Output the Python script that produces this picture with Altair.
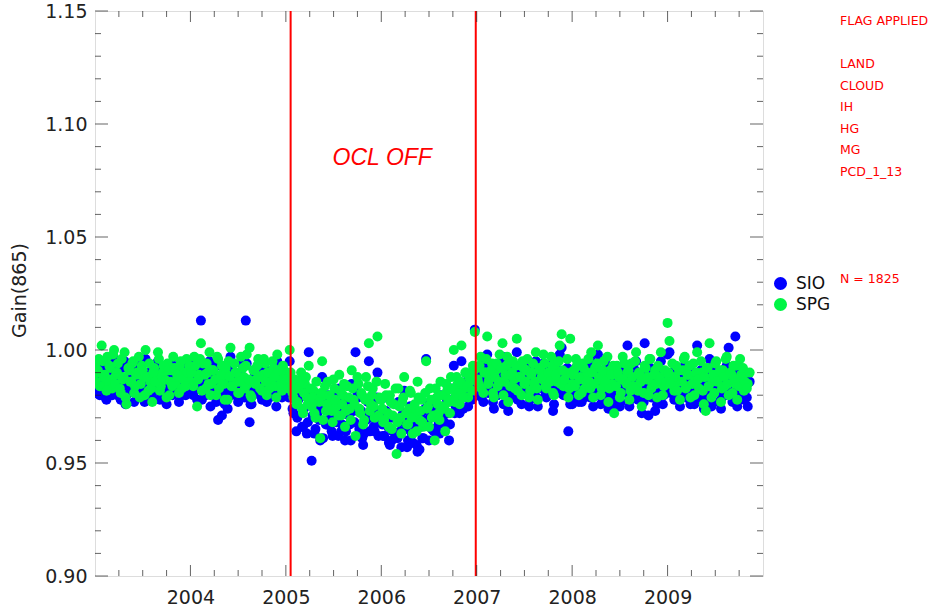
import altair as alt
import pandas as pd

# ---------------- data ----------------
# first pass of matchups
dates = [
    2003.00, 2003.02, 2003.04, 2003.07, 2003.09, 2003.11, 2003.13, 2003.16, 2003.18, 2003.20,
    2003.22, 2003.24, 2003.27, 2003.29, 2003.31, 2003.33, 2003.36, 2003.38, 2003.40, 2003.42,
    2003.44, 2003.47, 2003.49, 2003.51, 2003.53, 2003.56, 2003.58, 2003.60, 2003.62, 2003.64,
    2003.67, 2003.69, 2003.71, 2003.73, 2003.76, 2003.78, 2003.80, 2003.82, 2003.84, 2003.87,
    2003.89, 2003.91, 2003.93, 2003.96, 2003.98,
    2004.00, 2004.02, 2004.04, 2004.07, 2004.09, 2004.11, 2004.13, 2004.16, 2004.18, 2004.20,
    2004.22, 2004.24, 2004.27, 2004.29, 2004.31, 2004.33, 2004.36, 2004.38, 2004.40, 2004.42,
    2004.44, 2004.47, 2004.49, 2004.51, 2004.53, 2004.56, 2004.58, 2004.60, 2004.62, 2004.64,
    2004.67, 2004.69, 2004.71, 2004.73, 2004.76, 2004.78, 2004.80, 2004.82, 2004.84, 2004.87,
    2004.89, 2004.91, 2004.93, 2004.96, 2004.98,
    2005.00, 2005.02, 2005.04, 2005.07, 2005.09, 2005.11, 2005.13, 2005.16, 2005.18, 2005.20,
    2005.22, 2005.24, 2005.27, 2005.29, 2005.31, 2005.33, 2005.36, 2005.38, 2005.40, 2005.42,
    2005.44, 2005.47, 2005.49, 2005.51, 2005.53, 2005.56, 2005.58, 2005.60, 2005.62, 2005.64,
    2005.67, 2005.69, 2005.71, 2005.73, 2005.76, 2005.78, 2005.80, 2005.82, 2005.84, 2005.87,
    2005.89, 2005.91, 2005.93, 2005.96, 2005.98,
    2006.00, 2006.02, 2006.04, 2006.07, 2006.09, 2006.11, 2006.13, 2006.16, 2006.18, 2006.20,
    2006.22, 2006.24, 2006.27, 2006.29, 2006.31, 2006.33, 2006.36, 2006.38, 2006.40, 2006.42,
    2006.44, 2006.47, 2006.49, 2006.51, 2006.53, 2006.56, 2006.58, 2006.60, 2006.62, 2006.64,
    2006.67, 2006.69, 2006.71, 2006.73, 2006.76, 2006.78, 2006.80, 2006.82, 2006.84, 2006.87,
    2006.89, 2006.91, 2006.93, 2006.96, 2006.98,
    2007.00, 2007.02, 2007.04, 2007.07, 2007.09, 2007.11, 2007.13, 2007.16, 2007.18, 2007.20,
    2007.22, 2007.24, 2007.27, 2007.29, 2007.31, 2007.33, 2007.36, 2007.38, 2007.40, 2007.42,
    2007.44, 2007.47, 2007.49, 2007.51, 2007.53, 2007.56, 2007.58, 2007.60, 2007.62, 2007.64,
    2007.67, 2007.69, 2007.71, 2007.73, 2007.76, 2007.78, 2007.80, 2007.82, 2007.84, 2007.87,
    2007.89, 2007.91, 2007.93, 2007.96, 2007.98,
    2008.00, 2008.02, 2008.04, 2008.07, 2008.09, 2008.11, 2008.13, 2008.16, 2008.18, 2008.20,
    2008.22, 2008.24, 2008.27, 2008.29, 2008.31, 2008.33, 2008.36, 2008.38, 2008.40, 2008.42,
    2008.44, 2008.47, 2008.49, 2008.51, 2008.53, 2008.56, 2008.58, 2008.60, 2008.62, 2008.64,
    2008.67, 2008.69, 2008.71, 2008.73, 2008.76, 2008.78, 2008.80, 2008.82, 2008.84, 2008.87,
    2008.89, 2008.91, 2008.93, 2008.96, 2008.98,
    2009.00, 2009.02, 2009.04, 2009.07, 2009.09, 2009.11, 2009.13, 2009.16, 2009.18, 2009.20,
    2009.22, 2009.24, 2009.27, 2009.29, 2009.31, 2009.33, 2009.36, 2009.38, 2009.40, 2009.42,
    2009.44, 2009.47, 2009.49, 2009.51, 2009.53, 2009.56, 2009.58, 2009.60, 2009.62, 2009.64,
    2009.67, 2009.69, 2009.71, 2009.73, 2009.76, 2009.78, 2009.80, 2009.82, 2009.84,
]

sio = [
    0.981, 0.987, 0.992, 0.995, 0.984, 0.979, 0.993, 0.989, 0.980, 0.996,
    0.986, 0.990, 0.978, 0.984, 0.995, 0.980, 0.988, 0.983, 0.991, 0.981,
    0.987, 0.982, 0.990, 0.985, 0.996, 0.980, 0.983, 0.979, 0.989, 0.986,
    0.992, 0.981, 0.987, 0.984, 0.990, 0.982, 0.988, 0.993, 0.982, 0.985,
    0.990, 0.980, 0.987, 0.992, 0.984,
    0.983, 0.989, 0.994, 0.978, 0.986, 1.013, 0.991, 0.980, 0.987, 0.995,
    0.982, 0.988, 0.977, 0.969, 0.984, 0.971, 0.976, 0.986, 0.992, 0.997,
    0.981, 0.987, 0.983, 0.978, 0.994, 0.985, 1.013, 0.982, 0.968, 0.976,
    0.988, 0.984, 0.993, 0.980, 0.986, 0.991, 0.977, 0.987, 0.983, 0.989,
    0.981, 0.995, 0.985, 0.979, 0.988,
    0.986, 0.980, 0.995, 0.974, 0.982, 0.964, 0.978, 0.985, 0.966, 0.980,
    0.963, 0.999, 0.951, 0.976, 0.965, 0.972, 0.960, 0.988, 0.974, 0.967,
    0.980, 0.970, 0.962, 0.977, 0.968, 0.983, 0.964, 0.975, 0.960, 0.978,
    0.967, 0.985, 0.973, 0.999, 0.979, 0.965, 0.961, 0.963, 0.969, 0.995,
    0.970, 0.977, 0.964, 0.990, 0.972,
    0.972, 0.962, 0.979, 0.966, 0.958, 0.960, 0.970, 0.962, 0.977, 0.964,
    0.971, 0.982, 0.957, 0.968, 0.975, 0.959, 0.966, 0.955, 0.956, 0.972,
    0.961, 0.996, 0.969, 0.977, 0.965, 0.972, 0.974, 0.967, 0.980, 0.970,
    0.967, 0.977, 0.960, 0.983, 0.993, 0.975, 0.980, 0.972, 0.995, 0.979,
    0.986, 0.975, 0.982, 0.988, 1.009,
    0.988, 0.981, 0.993, 0.977, 0.986, 0.998, 0.983, 0.990, 0.974, 0.987,
    0.980, 0.994, 0.997, 0.982, 0.989, 0.973, 0.985, 0.991, 0.979, 0.999,
    0.984, 0.976, 0.988, 0.982, 0.992, 0.978, 0.986, 0.981, 0.995, 0.975,
    0.987, 0.983, 0.990, 0.979, 0.985, 0.993, 0.973, 0.988, 0.982, 0.998,
    1.001, 0.980, 0.986, 0.964, 0.976,
    0.976, 0.987, 0.992, 0.977, 0.984, 0.990, 0.979, 0.986, 0.982, 0.995,
    0.975, 0.988, 0.998, 0.983, 0.979, 0.991, 0.985, 0.974, 0.987, 0.981,
    0.976, 0.989, 0.984, 0.977, 0.993, 0.982, 1.002, 0.975, 0.990, 0.980,
    0.995, 0.978, 0.985, 0.972, 1.003, 0.983, 0.971, 0.992, 0.981, 0.973,
    0.976, 0.984, 0.995, 0.980, 0.986,
    0.998, 0.999, 0.984, 0.978, 0.989, 0.982, 0.975, 0.987, 0.993, 0.980,
    0.985, 0.976, 0.990, 0.983, 1.002, 0.979, 0.986, 0.974, 0.978, 0.988,
    0.996, 0.982, 0.977, 0.991, 0.984, 0.974, 0.987, 0.980, 0.993, 1.001,
    0.985, 0.989, 1.006, 0.975, 0.992, 0.983, 0.978, 0.986, 0.975,
]

spg = [
    0.993, 0.990, 0.996, 1.002, 0.988, 0.985, 0.997, 0.992, 0.983, 1.000,
    0.989, 0.994, 0.981, 0.987, 0.999, 0.976, 0.991, 0.986, 0.995, 0.984,
    0.990, 0.979, 0.993, 0.988, 1.000, 0.982, 0.986, 0.977, 0.992, 0.989,
    0.996, 0.984, 0.990, 0.987, 0.994, 0.980, 0.991, 0.997, 0.985, 0.988,
    0.993, 0.983, 0.990, 0.996, 0.987,
    0.986, 0.992, 0.997, 0.975, 0.989, 1.003, 0.994, 0.983, 0.990, 0.999,
    0.985, 0.991, 0.980, 0.996, 0.987, 0.993, 0.978, 0.989, 0.995, 1.001,
    0.984, 0.990, 0.986, 0.981, 0.997, 0.988, 0.993, 0.985, 1.001, 0.979,
    0.991, 0.987, 0.996, 0.983, 0.989, 0.994, 0.980, 0.990, 0.986, 0.992,
    0.984, 0.998, 0.988, 0.982, 0.991,
    0.990, 0.984, 1.000, 0.981, 0.987, 0.976, 0.983, 0.990, 0.972, 0.985,
    0.979, 0.993, 0.975, 0.982, 0.970, 0.978, 0.961, 0.995, 0.980, 0.973,
    0.986, 0.977, 0.968, 0.983, 0.975, 0.989, 0.971, 0.980, 0.966, 0.984,
    0.974, 0.991, 0.978, 0.962, 0.985, 0.972, 0.980, 0.969, 0.988, 1.003,
    0.976, 0.983, 0.970, 1.006, 0.979,
    0.978, 0.968, 0.985, 0.972, 0.980, 0.965, 0.976, 0.954, 0.983, 0.970,
    0.977, 0.988, 0.967, 0.974, 0.981, 0.963, 0.972, 0.986, 0.969, 0.978,
    0.966, 0.995, 0.975, 0.983, 0.970, 0.960, 0.979, 0.972, 0.986, 0.975,
    0.964, 0.982, 0.977, 0.988, 1.000, 0.980, 0.985, 0.976, 1.002, 0.983,
    0.990, 0.979, 0.986, 0.993, 1.008,
    0.992, 0.985, 0.997, 0.981, 0.990, 1.006, 0.987, 0.994, 0.979, 0.991,
    0.984, 0.998, 1.003, 0.986, 0.993, 0.977, 0.989, 0.995, 0.983, 1.005,
    0.988, 0.980, 0.992, 0.986, 0.996, 0.982, 0.990, 0.985, 0.999, 0.978,
    0.991, 0.987, 0.994, 0.983, 0.989, 0.997, 0.981, 0.992, 0.986, 1.002,
    1.007, 0.984, 0.990, 0.979, 1.005,
    0.985, 0.991, 0.996, 0.980, 0.988, 0.994, 0.983, 0.990, 0.986, 0.999,
    0.979, 0.992, 1.002, 0.987, 0.983, 0.995, 0.989, 0.977, 0.991, 0.985,
    0.972, 0.993, 0.988, 0.981, 0.997, 0.986, 0.990, 0.978, 0.994, 0.984,
    0.999, 0.982, 0.989, 0.975, 0.993, 0.987, 0.980, 0.996, 0.985, 0.991,
    0.979, 0.988, 0.999, 0.984, 0.990,
    1.012, 1.004, 0.988, 0.982, 0.993, 0.986, 0.978, 0.991, 0.997, 0.984,
    0.989, 0.979, 0.994, 0.987, 0.999, 0.983, 0.990, 0.976, 0.973, 0.992,
    1.003, 0.986, 0.981, 0.995, 0.988, 0.977, 0.991, 0.984, 0.997, 0.980,
    0.989, 0.993, 0.985, 0.978, 0.996, 0.987, 0.982, 0.990, 0.985,
]

# second pass of matchups
dates_b = [
    2003.01, 2003.03, 2003.05, 2003.08, 2003.10, 2003.12, 2003.15, 2003.17, 2003.19, 2003.21,
    2003.23, 2003.26, 2003.28, 2003.30, 2003.32, 2003.35, 2003.37, 2003.39, 2003.41, 2003.43,
    2003.46, 2003.48, 2003.50, 2003.52, 2003.55, 2003.57, 2003.59, 2003.61, 2003.63, 2003.66,
    2003.68, 2003.70, 2003.72, 2003.75, 2003.77, 2003.79, 2003.81, 2003.83, 2003.86, 2003.88,
    2003.90, 2003.92, 2003.95, 2003.97, 2003.99,
    2004.01, 2004.03, 2004.05, 2004.08, 2004.10, 2004.12, 2004.15, 2004.17, 2004.19, 2004.21,
    2004.23, 2004.26, 2004.28, 2004.30, 2004.32, 2004.35, 2004.37, 2004.39, 2004.41, 2004.43,
    2004.46, 2004.48, 2004.50, 2004.52, 2004.55, 2004.57, 2004.59, 2004.61, 2004.63, 2004.66,
    2004.68, 2004.70, 2004.72, 2004.75, 2004.77, 2004.79, 2004.81, 2004.83, 2004.86, 2004.88,
    2004.90, 2004.92, 2004.95, 2004.97, 2004.99,
    2005.01, 2005.03, 2005.05, 2005.08, 2005.10, 2005.12, 2005.15, 2005.17, 2005.19, 2005.21,
    2005.23, 2005.26, 2005.28, 2005.30, 2005.32, 2005.35, 2005.37, 2005.39, 2005.41, 2005.43,
    2005.46, 2005.48, 2005.50, 2005.52, 2005.55, 2005.57, 2005.59, 2005.61, 2005.63, 2005.66,
    2005.68, 2005.70, 2005.72, 2005.75, 2005.77, 2005.79, 2005.81, 2005.83, 2005.86, 2005.88,
    2005.90, 2005.92, 2005.95, 2005.97, 2005.99,
    2006.01, 2006.03, 2006.05, 2006.08, 2006.10, 2006.12, 2006.15, 2006.17, 2006.19, 2006.21,
    2006.23, 2006.26, 2006.28, 2006.30, 2006.32, 2006.35, 2006.37, 2006.39, 2006.41, 2006.43,
    2006.46, 2006.48, 2006.50, 2006.52, 2006.55, 2006.57, 2006.59, 2006.61, 2006.63, 2006.66,
    2006.68, 2006.70, 2006.72, 2006.75, 2006.77, 2006.79, 2006.81, 2006.83, 2006.86, 2006.88,
    2006.90, 2006.92, 2006.95, 2006.97, 2006.99,
    2007.01, 2007.03, 2007.05, 2007.08, 2007.10, 2007.12, 2007.15, 2007.17, 2007.19, 2007.21,
    2007.23, 2007.26, 2007.28, 2007.30, 2007.32, 2007.35, 2007.37, 2007.39, 2007.41, 2007.43,
    2007.46, 2007.48, 2007.50, 2007.52, 2007.55, 2007.57, 2007.59, 2007.61, 2007.63, 2007.66,
    2007.68, 2007.70, 2007.72, 2007.75, 2007.77, 2007.79, 2007.81, 2007.83, 2007.86, 2007.88,
    2007.90, 2007.92, 2007.95, 2007.97, 2007.99,
    2008.01, 2008.03, 2008.05, 2008.08, 2008.10, 2008.12, 2008.15, 2008.17, 2008.19, 2008.21,
    2008.23, 2008.26, 2008.28, 2008.30, 2008.32, 2008.35, 2008.37, 2008.39, 2008.41, 2008.43,
    2008.46, 2008.48, 2008.50, 2008.52, 2008.55, 2008.57, 2008.59, 2008.61, 2008.63, 2008.66,
    2008.68, 2008.70, 2008.72, 2008.75, 2008.77, 2008.79, 2008.81, 2008.83, 2008.86, 2008.88,
    2008.90, 2008.92, 2008.95, 2008.97, 2008.99,
    2009.01, 2009.03, 2009.05, 2009.08, 2009.10, 2009.12, 2009.15, 2009.17, 2009.19, 2009.21,
    2009.23, 2009.26, 2009.28, 2009.30, 2009.32, 2009.35, 2009.37, 2009.39, 2009.41, 2009.43,
    2009.46, 2009.48, 2009.50, 2009.52, 2009.55, 2009.57, 2009.59, 2009.61, 2009.63, 2009.66,
    2009.68, 2009.70, 2009.72, 2009.75, 2009.77, 2009.79, 2009.81, 2009.83, 2009.86,
]

sio_b = [
    0.983, 0.987, 0.980, 0.991, 0.986, 0.978, 0.989, 0.984, 0.994, 0.981,
    0.986, 0.979, 0.992, 0.985, 0.976, 0.988, 0.982, 0.990, 0.977, 0.985,
    0.993, 0.981, 0.987, 0.977, 0.984, 0.990, 0.979, 0.986, 0.982, 0.995,
    0.978, 0.984, 0.989, 0.976, 0.987, 0.982, 0.980, 0.988, 0.985, 0.977,
    0.991, 0.983, 0.980, 0.986, 0.989,
    0.986, 0.980, 0.989, 0.983, 0.992, 0.978, 0.985, 0.990, 0.981, 0.975,
    0.987, 0.983, 0.993, 0.979, 0.985, 0.981, 0.988, 0.974, 0.984, 0.980,
    0.990, 0.986, 0.977, 0.982, 0.988, 0.979, 0.994, 0.983, 0.976, 0.987,
    0.981, 0.989, 0.984, 0.978, 0.992, 0.982, 0.986, 0.979, 0.991, 0.984,
    0.975, 0.987, 0.981, 0.989, 0.983,
    0.984, 0.979, 0.986, 0.972, 0.978, 0.970, 0.980, 0.966, 0.974, 0.982,
    0.968, 0.976, 0.971, 0.963, 0.979, 0.969, 0.974, 0.961, 0.977, 0.967,
    0.973, 0.964, 0.980, 0.970, 0.962, 0.975, 0.967, 0.978, 0.964, 0.971,
    0.960, 0.976, 0.968, 0.981, 0.965, 0.973, 0.958, 0.970, 0.977, 0.964,
    0.972, 0.966, 0.979, 0.962, 0.969,
    0.967, 0.962, 0.973, 0.959, 0.970, 0.964, 0.976, 0.961, 0.968, 0.957,
    0.972, 0.965, 0.960, 0.975, 0.963, 0.969, 0.958, 0.972, 0.966, 0.961,
    0.974, 0.967, 0.960, 0.971, 0.964, 0.976, 0.970, 0.963, 0.974, 0.968,
    0.979, 0.972, 0.967, 0.977, 0.972, 0.983, 0.976, 0.981, 0.974, 0.985,
    0.980, 0.984, 0.978, 0.987, 0.983,
    0.984, 0.989, 0.979, 0.986, 0.992, 0.981, 0.987, 0.977, 0.984, 0.990,
    0.982, 0.988, 0.976, 0.985, 0.993, 0.980, 0.986, 0.983, 0.989, 0.978,
    0.984, 0.991, 0.981, 0.987, 0.975, 0.985, 0.990, 0.982, 0.979, 0.988,
    0.984, 0.994, 0.980, 0.986, 0.982, 0.989, 0.976, 0.985, 0.991, 0.981,
    0.987, 0.983, 0.992, 0.979, 0.986,
    0.985, 0.980, 0.989, 0.983, 0.977, 0.988, 0.982, 0.992, 0.979, 0.986,
    0.981, 0.990, 0.984, 0.976, 0.987, 0.982, 0.993, 0.979, 0.985, 0.989,
    0.980, 0.986, 0.975, 0.983, 0.990, 0.981, 0.987, 0.978, 0.984, 0.991,
    0.980, 0.986, 0.982, 0.977, 0.988, 0.984, 0.992, 0.979, 0.985, 0.981,
    0.989, 0.983, 0.976, 0.987, 0.982,
    0.986, 0.981, 0.990, 0.984, 0.978, 0.987, 0.982, 0.992, 0.979, 0.985,
    0.989, 0.981, 0.976, 0.986, 0.983, 0.991, 0.978, 0.984, 0.988, 0.980,
    0.975, 0.985, 0.990, 0.982, 0.987, 0.979, 0.984, 0.992, 0.981, 0.986,
    0.977, 0.983, 0.989, 0.980, 0.985, 0.988, 0.982, 0.979, 0.986,
]

spg_b = [
    0.986, 0.991, 0.984, 0.995, 0.989, 0.982, 0.993, 0.987, 0.998, 0.985,
    0.990, 0.983, 0.996, 0.988, 0.979, 0.992, 0.986, 0.994, 0.981, 0.989,
    0.997, 0.985, 0.991, 0.980, 0.988, 0.994, 0.983, 0.990, 0.986, 0.999,
    0.982, 0.988, 0.993, 0.979, 0.991, 0.986, 0.984, 0.992, 0.989, 0.981,
    0.995, 0.987, 0.984, 0.990, 0.993,
    0.990, 0.984, 0.993, 0.987, 0.996, 0.982, 0.989, 0.994, 0.985, 0.980,
    0.991, 0.987, 0.997, 0.983, 0.989, 0.985, 0.992, 0.978, 0.988, 0.984,
    0.994, 0.990, 0.981, 0.986, 0.992, 0.983, 0.998, 0.987, 0.980, 0.991,
    0.985, 0.993, 0.988, 0.982, 0.996, 0.986, 0.990, 0.983, 0.995, 0.988,
    0.979, 0.991, 0.985, 0.993, 0.987,
    0.987, 0.983, 0.990, 0.979, 0.984, 0.977, 0.986, 0.974, 0.981, 0.988,
    0.976, 0.983, 0.979, 0.972, 0.986, 0.977, 0.981, 0.969, 0.984, 0.976,
    0.980, 0.973, 0.987, 0.978, 0.971, 0.982, 0.976, 0.985, 0.973, 0.979,
    0.969, 0.983, 0.976, 0.988, 0.974, 0.981, 0.967, 0.978, 0.984, 0.973,
    0.980, 0.975, 0.986, 0.971, 0.978,
    0.974, 0.969, 0.980, 0.966, 0.977, 0.971, 0.983, 0.968, 0.975, 0.963,
    0.979, 0.972, 0.967, 0.982, 0.970, 0.976, 0.964, 0.979, 0.973, 0.968,
    0.981, 0.974, 0.966, 0.978, 0.971, 0.983, 0.976, 0.969, 0.980, 0.974,
    0.985, 0.978, 0.972, 0.983, 0.977, 0.988, 0.981, 0.986, 0.979, 0.990,
    0.984, 0.988, 0.982, 0.991, 0.987,
    0.987, 0.993, 0.983, 0.990, 0.996, 0.985, 0.991, 0.981, 0.988, 0.994,
    0.986, 0.992, 0.980, 0.989, 0.997, 0.984, 0.990, 0.987, 0.993, 0.982,
    0.988, 0.995, 0.985, 0.991, 0.979, 0.989, 0.994, 0.986, 0.983, 0.992,
    0.988, 0.998, 0.984, 0.990, 0.986, 0.993, 0.980, 0.989, 0.995, 0.985,
    0.991, 0.987, 0.996, 0.983, 0.990,
    0.989, 0.984, 0.993, 0.987, 0.981, 0.992, 0.986, 0.996, 0.983, 0.990,
    0.985, 0.994, 0.988, 0.980, 0.991, 0.986, 0.997, 0.983, 0.989, 0.993,
    0.984, 0.990, 0.979, 0.987, 0.994, 0.985, 0.991, 0.982, 0.988, 0.995,
    0.984, 0.990, 0.986, 0.981, 0.992, 0.988, 0.996, 0.983, 0.989, 0.985,
    0.993, 0.987, 0.980, 0.991, 0.986,
    0.990, 0.985, 0.994, 0.988, 0.982, 0.991, 0.986, 0.996, 0.983, 0.989,
    0.993, 0.985, 0.980, 0.990, 0.987, 0.995, 0.982, 0.988, 0.992, 0.984,
    0.979, 0.989, 0.994, 0.986, 0.991, 0.983, 0.988, 0.996, 0.985, 0.990,
    0.981, 0.987, 0.993, 0.984, 0.989, 0.992, 0.986, 0.983, 0.990,
]

series_names = ["SIO", "SPG"]
series_colors = ["#0000ff", "#00f545"]

ocl_dates = [2005.05, 2006.99]
ocl_label = ["OCL OFF"]
ocl_label_x = [2006.01]
ocl_label_y = [1.085]

side_labels = ["FLAG APPLIED", "LAND", "CLOUD", "IH", "HG", "MG", "PCD_1_13", "N = 1825"]
side_rows = [0, 2, 3, 4, 5, 6, 7, 12]

y_major = [0.90, 0.95, 1.00, 1.05, 1.10, 1.15]
y_minor = [0.91, 0.92, 0.93, 0.94, 0.96, 0.97, 0.98, 0.99, 1.01, 1.02, 1.03, 1.04,
           1.06, 1.07, 1.08, 1.09, 1.11, 1.12, 1.13, 1.14]
x_major = [2004, 2005, 2006, 2007, 2008, 2009]
x_minor = [2003.25, 2003.5, 2003.75, 2004.25, 2004.5, 2004.75, 2005.25, 2005.5, 2005.75,
           2006.25, 2006.5, 2006.75, 2007.25, 2007.5, 2007.75, 2008.25, 2008.5, 2008.75,
           2009.25, 2009.5, 2009.75]

# ---------------- layout ----------------
W, H = 668, 565
FONT = "DejaVu Sans"

xs = alt.Scale(domain=[2003, 2010], nice=False, zero=False)
ys = alt.Scale(domain=[0.90, 1.15], nice=False, zero=False)

all_t = dates + dates_b
pts = pd.DataFrame({
    "t": all_t + all_t,
    "gain": sio + sio_b + spg + spg_b,
    "series": ["SIO"] * len(all_t) + ["SPG"] * len(all_t),
})

points = alt.Chart(pts).mark_circle(size=100, opacity=1, clip=True).encode(
    x=alt.X("t:Q", scale=xs,
            axis=alt.Axis(values=x_major, format="d", title=None, grid=False, ticks=False,
                          domain=False, labelFont=FONT, labelFontSize=19, labelColor="#222",
                          labelPadding=12, labelFlush=False)),
    y=alt.Y("gain:Q", scale=ys,
            axis=alt.Axis(values=y_major, format=".2f", title="Gain(865)", grid=False,
                          ticks=False, domain=False, labelFont=FONT, labelFontSize=19,
                          labelColor="#222", labelPadding=8, labelFlush=False,
                          titleFont=FONT, titleFontSize=19, titleFontWeight="normal",
                          titleColor="#222", titleX=-76, titleY=279,
                          titleBaseline="middle", titleAlign="center")),
    color=alt.Color("series:N",
                    scale=alt.Scale(domain=series_names, range=series_colors),
                    legend=alt.Legend(title=None, orient="none", legendX=677, legendY=264,
                                      symbolType="circle", symbolSize=170,
                                      symbolStrokeWidth=0, symbolOpacity=1,
                                      labelFont=FONT, labelFontSize=17, labelColor="#111",
                                      labelOffset=7, rowPadding=3, padding=0)),
)

ocl_df = pd.DataFrame({"t": ocl_dates})
rules = alt.Chart(ocl_df).mark_rule(color="#ff0000", strokeWidth=2).encode(
    x=alt.X("t:Q", scale=xs)
)

lab_df = pd.DataFrame({"t": ocl_label_x, "g": ocl_label_y, "label": ocl_label})
ocl_text = alt.Chart(lab_df).mark_text(
    font="Liberation Sans", fontSize=23, fontStyle="italic", color="#ff0000",
    align="center", baseline="middle"
).encode(x=alt.X("t:Q", scale=xs), y=alt.Y("g:Q", scale=ys), text="label:N")

def yticks(vals, size, xpos):
    return alt.Chart(pd.DataFrame({"v": vals})).mark_tick(
        orient="horizontal", size=size, thickness=1, color="#222"
    ).encode(y=alt.Y("v:Q", scale=ys), x=alt.value(xpos))

def xticks(vals, size, ypos):
    return alt.Chart(pd.DataFrame({"v": vals})).mark_tick(
        orient="vertical", size=size, thickness=1, color="#222"
    ).encode(x=alt.X("v:Q", scale=xs), y=alt.value(ypos))

tick_layers = [
    yticks(y_major, 13, 6.5), yticks(y_minor, 6, 3),
    yticks(y_major, 13, W - 6.5), yticks(y_minor, 6, W - 3),
    xticks(x_major, 11, H - 5.5), xticks(x_minor, 6, H - 3),
    xticks(x_major, 11, 5.5), xticks(x_minor, 6, 3),
]

side_layers = []
for lab, row in zip(side_labels, side_rows):
    side_layers.append(
        alt.Chart(pd.DataFrame({"label": [lab]})).mark_text(
            font=FONT, fontSize=12.5, color="#ff0000", align="left", baseline="middle"
        ).encode(text="label:N", x=alt.value(745), y=alt.value(10 + 21.5 * row))
    )

chart = alt.layer(
    points, rules, ocl_text, *tick_layers, *side_layers
).properties(
    width=W, height=H,
    autosize=alt.AutoSizeParams(type="none"),
    padding={"left": 95, "top": 11, "right": 168, "bottom": 36},
).configure_view(stroke="#111", strokeWidth=1.2).configure(background="white")

chart.save("out.html", embed_options={"renderer": "svg", "actions": False})
